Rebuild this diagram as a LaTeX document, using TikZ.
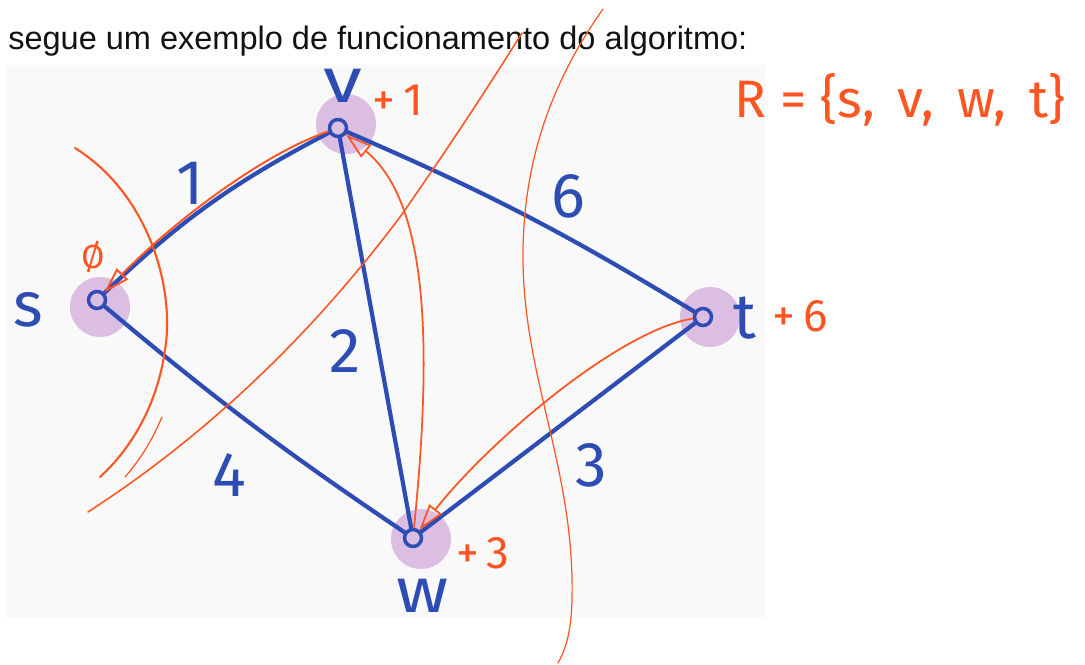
\documentclass[tikz,border=0pt]{standalone}
\usepackage{fontspec}
\setmainfont{Liberation Sans}
\newfontfamily\handfont{Fira Sans}
\usetikzlibrary{arrows.meta, positioning, calc}
\definecolor{ink}{HTML}{111111}
\definecolor{pen}{HTML}{2E4DB4}
\definecolor{marker}{HTML}{FF5522}
\definecolor{lilac}{HTML}{DDBEE3}
\definecolor{paper}{HTML}{F9F9FA}
\tikzset{
  halo/.style={circle, fill=lilac, draw=none, minimum size=1.2cm, inner sep=0pt},
  vertex/.style={circle, draw=pen, line width=2pt, minimum size=0.34cm, inner sep=0pt},
  edge/.style={draw=pen, line width=2.4pt, line cap=round},
  %
  vname/.style={font=\handfont\fontsize{36}{40}\selectfont, text=pen, inner sep=0pt},
  weight/.style={vname},
  gain/.style={font=\handfont\fontsize{26}{30}\selectfont, text=marker, inner sep=0pt},
  %
  route/.style={draw=marker, line width=1pt,
                -{Triangle[open, length=15pt, width=9pt]}},
  cut/.style={draw=marker, line width=0.7pt, line cap=round},
}

\begin{document}
\begin{tikzpicture}[x=0.02cm, y=-0.02cm]
  \useasboundingbox (0,0) rectangle (1085,665);

  % --- heading and sheet ------------------------------------------------
  \node[anchor=base west, inner sep=0pt, text=ink,
        font=\fontsize{18.5}{22}\selectfont] (title) at (8,50)
    {segue um exemplo de funcionamento do algoritmo:};
  \fill[paper] (5,65) rectangle (765,618);

  % --- vertices ---------------------------------------------------------
  \node[halo] (shalo) at (100,307) {};
  \node[halo] (vhalo) at (346,124) {};
  \node[halo] (thalo) at (710,317) {};
  \node[halo] (whalo) at (421,539) {};

  \node[vertex] (s) at (97,300) {};
  \node[vertex] (v) at (338,128) {};
  \node[vertex] (t) at (703,317) {};
  \node[vertex] (w) at (413,538) {};

  \node[vname] (slabel) at (28,310) {s};
  \node[vname, xscale=1.25] (vlabel) at (343,86) {v};
  \node[vname] (tlabel) at (745,318) {t};
  \node[vname, xscale=1.15] (wlabel) at (423,596) {w};

  % --- edges ------------------------------------------------------------
  \draw[edge] (s) to[bend left=8] (v);
  \draw[edge] (v) to[bend left=4] (t);
  \draw[edge] (v) -- (w);
  \draw[edge] (s) to[bend right=3] (w);
  \draw[edge] (w) -- (t);

  \node[weight] (wsv) at (190,183) {1};
  \node[weight] (wvt) at (568,196) {6};
  \node[weight] (wvw) at (345,351) {2};
  \node[weight] (wsw) at (229,475) {4};
  \node[weight] (wwt) at (591,465) {3};

  % --- cuts -------------------------------------------------------------
  \draw[cut, line width=1.2pt] (75,148) .. controls (150,195) and (175,290) .. (165,350)
    .. controls (158,400) and (135,445) .. (100,477);
  \draw[cut] (162,417) .. controls (150,445) and (138,462) .. (125,477);
  \draw[cut, line width=0.9pt] (522,33) .. controls (480,100) and (440,160) .. (400,217)
    .. controls (330,310) and (230,420) .. (88,512);
  \draw[cut] (603,9) .. controls (560,70) and (522,150) .. (523,260)
    .. controls (524,380) and (575,470) .. (572,600)
    .. controls (571,635) and (565,650) .. (558,663);

  % --- tree arrows ------------------------------------------------------
  \draw[route, line width=1.1pt] (v) .. controls (260,155) and (170,225) .. (s);
  \draw[route] (w) .. controls (434,330) and (425,200) .. (v);
  \draw[route] (t) .. controls (620,330) and (490,440) .. (w);

  % --- potentials -------------------------------------------------------
  \node[gain, font=\handfont\fontsize{19}{22}\selectfont] (sgain) at (93,257) {Ø};
  \node[gain] (vgain) at (398,100) {+\,1};
  \node[gain] (tgain) at (800,316) {+\,6};
  \node[gain] (wgain) at (483,553) {+\,3};

  \node[gain, font=\handfont\fontsize{30}{34}\selectfont]
    (reached) at (900,100) {R = \{s,\, v,\, w,\, t\}};

\end{tikzpicture}
\end{document}
